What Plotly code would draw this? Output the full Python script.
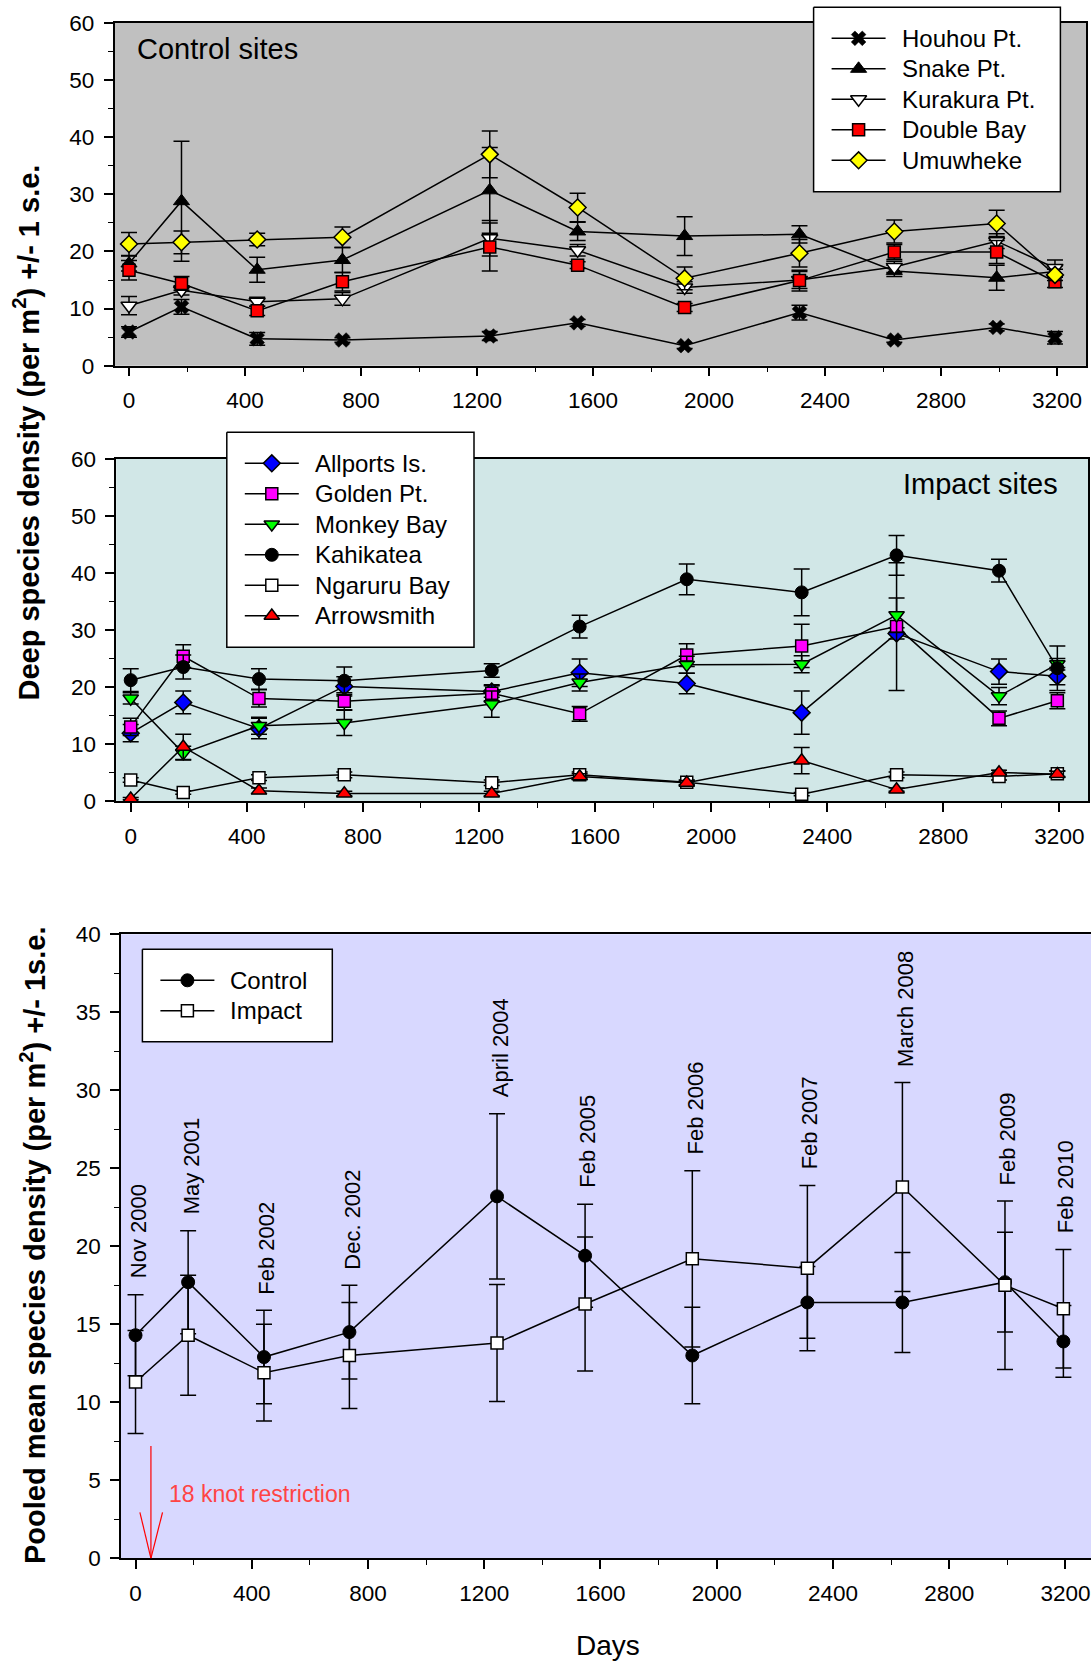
import plotly.graph_objects as go

W, H = 1091, 1663
FONT = "Arial, Liberation Sans, sans-serif"

# ---------------- data ----------------
days = [0, 181, 442, 736, 1244, 1547, 1916, 2312, 2639, 2992, 3193]

# Control sites (per m2, +/- 1 s.e.)
houhou = [5.9, 10.3, 4.7, 4.5, 5.2, 7.5, 3.5, 9.3, 4.5, 6.7, 4.9]
houhou_se = [0.9, 1.3, 1.1, 0.4, 0.8, 0.6, 0.5, 1.3, 0.4, 0.6, 1.1]
snake = [17.9, 28.8, 16.8, 18.5, 30.7, 23.5, 22.7, 23.0, 16.6, 15.4, 16.5]
snake_se = [1.3, 10.5, 2.2, 2.2, 7.5, 1.6, 3.4, 1.5, 1.0, 2.2, 1.0]
kurakura = [10.5, 13.2, 11.2, 11.7, 22.3, 20.2, 13.7, 15.0, 17.3, 21.8, 17.1]
kurakura_se = [1.6, 0.8, 0.8, 1.1, 3.1, 1.0, 1.0, 1.5, 1.0, 1.3, 1.4]
double_bay = [16.7, 14.4, 9.6, 14.7, 20.8, 17.6, 10.2, 14.9, 19.9, 19.9, 14.7]
double_bay_se = [1.7, 1.2, 0.8, 1.6, 4.2, 0.6, 0.7, 1.8, 1.3, 2.0, 1.0]
umuwheke = [21.3, 21.6, 22.1, 22.5, 37.0, 27.7, 15.3, 19.7, 23.5, 24.9, 15.9]
umuwheke_se = [2.0, 2.0, 1.1, 1.8, 4.1, 2.5, 2.0, 2.4, 2.0, 2.3, 1.0]

# Impact sites
allports = [11.9, 17.3, 12.7, 20.1, 19.2, 22.5, 20.6, 15.5, 29.4, 22.7, 21.9]
allports_se = [1.5, 2.0, 1.8, 1.7, 1.0, 2.4, 1.8, 3.8, 1.0, 2.2, 1.5]
golden = [13.0, 25.4, 18.0, 17.5, 18.9, 15.3, 25.6, 27.2, 30.6, 14.5, 17.6]
golden_se = [1.5, 2.0, 1.5, 1.5, 1.5, 1.3, 2.0, 3.8, 11.2, 1.3, 1.4]
monkey = [18.0, 8.4, 13.2, 13.7, 17.0, 20.8, 23.9, 24.0, 32.6, 18.4, 24.0]
monkey_se = [1.0, 1.2, 1.5, 2.2, 2.3, 1.5, 1.5, 1.5, 3.0, 1.5, 1.0]
kahikatea = [21.2, 23.5, 21.4, 21.1, 22.9, 30.6, 38.9, 36.6, 43.1, 40.4, 23.3]
kahikatea_se = [2.0, 2.1, 1.8, 2.4, 1.2, 2.0, 2.7, 4.1, 3.5, 2.0, 3.9]
ngaruru = [3.7, 1.5, 4.1, 4.6, 3.2, 4.6, 3.3, 1.2, 4.6, 4.3, 4.8]
ngaruru_se = [0.4, 0.3, 0.5, 0.5, 0.5, 0.5, 0.4, 0.3, 0.5, 0.6, 0.5]
arrowsmith = [0.4, 9.5, 1.8, 1.3, 1.3, 4.3, 3.2, 7.1, 2.0, 5.0, 4.7]
arrowsmith_se = [0.2, 2.2, 0.5, 0.4, 0.4, 0.5, 0.4, 2.3, 0.3, 0.4, 0.5]

# Pooled means
control = [14.3, 17.7, 12.9, 14.5, 23.2, 19.4, 13.0, 16.4, 16.4, 17.7, 13.9]
control_se = [2.6, 3.3, 3.0, 3.0, 5.3, 3.3, 3.1, 2.3, 3.2, 3.2, 2.3]
impact = [11.3, 14.3, 11.9, 13.0, 13.8, 16.3, 19.2, 18.6, 23.8, 17.5, 16.0]
impact_se = [3.3, 3.85, 3.1, 3.4, 3.75, 4.3, 5.65, 5.3, 6.7, 5.4, 3.8]
survey_dates = ["Nov 2000", "May 2001", "Feb 2002", "Dec. 2002", "April 2004",
                "Feb 2005", "Feb 2006", "Feb 2007", "March 2008", "Feb 2009", "Feb 2010"]

# Speed restriction marker (day, arrow height)
restriction_day = 53
restriction_top = 7.2


# ---------------- helpers ----------------
def fx(px):
    return px / W


def fy(py):
    return 1 - py / H


def mk(symbol, color, size, lw=1.5):
    return dict(symbol=symbol, color=color, size=size, line=dict(color="black", width=lw))


fig = go.Figure()

control_series = [
    ("Houhou Pt.", houhou, houhou_se, mk("x", "black", 13, 0.5)),
    ("Snake Pt.", snake, snake_se, mk("triangle-up", "black", 14, 1)),
    ("Kurakura Pt.", kurakura, kurakura_se, mk("triangle-down", "white", 14)),
    ("Double Bay", double_bay, double_bay_se, mk("square", "#FF0000", 12)),
    ("Umuwheke", umuwheke, umuwheke_se, mk("diamond", "#FFFF00", 13)),
]
impact_series = [
    ("Allports Is.", allports, allports_se, mk("diamond", "#0000FF", 13)),
    ("Golden Pt.", golden, golden_se, mk("square", "#FF00FF", 12)),
    ("Monkey Bay", monkey, monkey_se, mk("triangle-down", "#00FF00", 13.5)),
    ("Kahikatea", kahikatea, kahikatea_se, mk("circle", "black", 13, 1)),
    ("Ngaruru Bay", ngaruru, ngaruru_se, mk("square", "white", 12)),
    ("Arrowsmith", arrowsmith, arrowsmith_se, mk("triangle-up", "#FF0000", 13.5)),
]
pooled_series = [
    ("Control", control, control_se, mk("circle", "black", 13, 1)),
    ("Impact", impact, impact_se, mk("square", "white", 12)),
]


def add_series(series, xa, ya):
    for name, vals, se, marker in series:
        fig.add_trace(go.Scatter(
            x=days, y=vals, name=name, mode="lines+markers",
            line=dict(color="black", width=1.5), marker=marker,
            error_y=dict(type="data", array=se, symmetric=True, color="black",
                         thickness=1.5, width=8),
            xaxis=xa, yaxis=ya, cliponaxis=False, showlegend=False,
        ))


add_series(control_series, "x", "y")
add_series(impact_series, "x2", "y2")
add_series(pooled_series, "x3", "y3")

# ---------------- axes ----------------
layout_axes = {}
panels = [
    # suffix, (left, top, right, bottom) in px, x range, y max, y dtick, mirror y, bg
    ("", (114.5, 23.0, 1086.0, 365.7), [-50, 3300], 60, 10, True, "#C0C0C0"),
    ("2", (116.2, 459.0, 1088.4, 801.0), [-50, 3300], 60, 10, True, "#D1E7E7"),
    ("3", (121.0, 934.3, 1091.0, 1558.3), [-50, 3288], 40, 5, False, "#D8D8FF"),
]
tick_font = dict(family=FONT, size=22.5, color="black")
shapes = []
for sfx, (l, t, r, b), xr, ymax, ydt, mir_y, bg in panels:
    layout_axes["xaxis" + sfx] = dict(
        domain=[fx(l), fx(r)], range=xr, anchor="y" + sfx, automargin=False,
        tickmode="linear", tick0=0, dtick=400, ticks="outside", ticklen=9,
        tickwidth=1.5, tickcolor="black", showline=True, linecolor="black",
        linewidth=1.5, mirror=True, showgrid=False, zeroline=False,
        tickfont=tick_font, ticklabelstandoff=5,
        minor=dict(tick0=0, dtick=200, ticks="outside", ticklen=5, tickwidth=1.2,
                   tickcolor="black", showgrid=False),
    )
    layout_axes["yaxis" + sfx] = dict(
        domain=[fy(b), fy(t)], range=[0, ymax], anchor="x" + sfx, automargin=False,
        tickmode="linear", tick0=0, dtick=ydt, ticks="outside", ticklen=9,
        tickwidth=1.5, tickcolor="black", showline=True, linecolor="black",
        linewidth=1.5, mirror=mir_y, showgrid=False, zeroline=False,
        tickfont=tick_font, ticklabelstandoff=5,
        minor=dict(tick0=0, dtick=ydt / 2, ticks="outside", ticklen=5, tickwidth=1.2,
                   tickcolor="black", showgrid=False),
    )
    shapes.append(dict(type="rect", xref="x%s domain" % sfx, yref="y%s domain" % sfx,
                       x0=0, x1=1, y0=0, y1=1, fillcolor=bg, line=dict(width=0),
                       layer="below"))

# ---------------- legends (drawn in their own overlay axes, pixel units) ----------------
annotations = []
legends = [
    ("4", (813.6, 7.3, 1060.4, 191.7), control_series),
    ("5", (226.8, 432.3, 474.0, 647.3), impact_series),
    ("6", (142.4, 949.3, 332.3, 1041.7), pooled_series),
]
for sfx, (l, t, r, b), series in legends:
    pad = 3
    layout_axes["xaxis" + sfx] = dict(domain=[fx(l - pad), fx(r + pad)],
                                      range=[l - pad, r + pad], visible=False,
                                      fixedrange=True, anchor="y" + sfx, automargin=False)
    layout_axes["yaxis" + sfx] = dict(domain=[fy(b + pad), fy(t - pad)],
                                      range=[b + pad, t - pad], visible=False,
                                      fixedrange=True, anchor="x" + sfx, automargin=False)
    fig.add_trace(go.Scatter(
        x=[l, r, r, l, l], y=[t, t, b, b, t], mode="lines", fill="toself",
        fillcolor="white", line=dict(color="black", width=1.5),
        xaxis="x" + sfx, yaxis="y" + sfx, hoverinfo="skip", showlegend=False,
    ))
    for i, (name, _, _, marker) in enumerate(series):
        ry = t + 31 + i * 30.5
        fig.add_trace(go.Scatter(
            x=[l + 18, l + 72], y=[ry, ry], mode="lines",
            line=dict(color="black", width=1.5), xaxis="x" + sfx, yaxis="y" + sfx,
            hoverinfo="skip", showlegend=False, cliponaxis=False,
        ))
        fig.add_trace(go.Scatter(
            x=[l + 45], y=[ry], mode="markers", marker=marker,
            xaxis="x" + sfx, yaxis="y" + sfx, hoverinfo="skip",
            showlegend=False, cliponaxis=False,
        ))
        annotations.append(dict(
            text=name, x=l + 86, y=ry, xref="x" + sfx, yref="y" + sfx,
            xanchor="left", yanchor="middle", showarrow=False,
            font=dict(family=FONT, size=24, color="black"),
        ))

# ---------------- text ----------------
annotations += [
    dict(text="Control sites", x=fx(134.7), y=fy(49.5), xref="paper", yref="paper",
         xanchor="left", yanchor="middle", showarrow=False,
         font=dict(family=FONT, size=29, color="black")),
    dict(text="Impact sites", x=fx(1060.4), y=fy(484), xref="paper", yref="paper",
         xanchor="right", yanchor="middle", showarrow=False,
         font=dict(family=FONT, size=29, color="black")),
    dict(text="<b>Deep species density (per m<sup>2</sup>) +/- 1 s.e.</b>",
         x=fx(27), y=fy(432.5), xref="paper", yref="paper", textangle=-90,
         xanchor="center", yanchor="middle", showarrow=False,
         font=dict(family=FONT, size=29, color="black")),
    dict(text="<b>Pooled mean species density (per m<sup>2</sup>) +/- 1s.e.</b>",
         x=fx(33), y=fy(1246), xref="paper", yref="paper", textangle=-90,
         xanchor="center", yanchor="middle", showarrow=False,
         font=dict(family=FONT, size=29, color="black")),
    dict(text="Days", x=fx(607.7), y=fy(1645), xref="paper", yref="paper",
         xanchor="center", yanchor="middle", showarrow=False,
         font=dict(family=FONT, size=28, color="black")),
    dict(text="18 knot restriction", x=109, y=4.15, xref="x3", yref="y3",
         xanchor="left", yanchor="middle", showarrow=False,
         font=dict(family=FONT, size=23, color="#FF4444")),
]

# survey dates above each pooled pair
for d, c, cs, im, ims, lab in zip(days, control, control_se, impact, impact_se, survey_dates):
    top = max(c + cs, im + ims)
    annotations.append(dict(
        text=lab, x=d, y=top, xref="x3", yref="y3", textangle=-90,
        xanchor="center", yanchor="bottom", yshift=14, xshift=3, showarrow=False,
        font=dict(family=FONT, size=22, color="black"),
    ))

# red arrow marking the restriction start
arrow_style = dict(color="#FF0000", width=1.2)
shapes += [
    dict(type="line", xref="x3", yref="y3", x0=restriction_day, x1=restriction_day,
         y0=restriction_top, y1=0, line=arrow_style),
    dict(type="line", xref="x3", yref="y3", x0=restriction_day - 38, x1=restriction_day,
         y0=2.95, y1=0, line=arrow_style),
    dict(type="line", xref="x3", yref="y3", x0=restriction_day + 40, x1=restriction_day,
         y0=2.95, y1=0, line=arrow_style),
]

fig.update_layout(
    width=W, height=H, margin=dict(l=0, r=0, t=0, b=0, pad=0, autoexpand=False),
    paper_bgcolor="white", plot_bgcolor="rgba(0,0,0,0)",
    showlegend=False, font=dict(family=FONT, color="black"),
    shapes=shapes, annotations=annotations, **layout_axes,
)

fig.write_html("out.html")
